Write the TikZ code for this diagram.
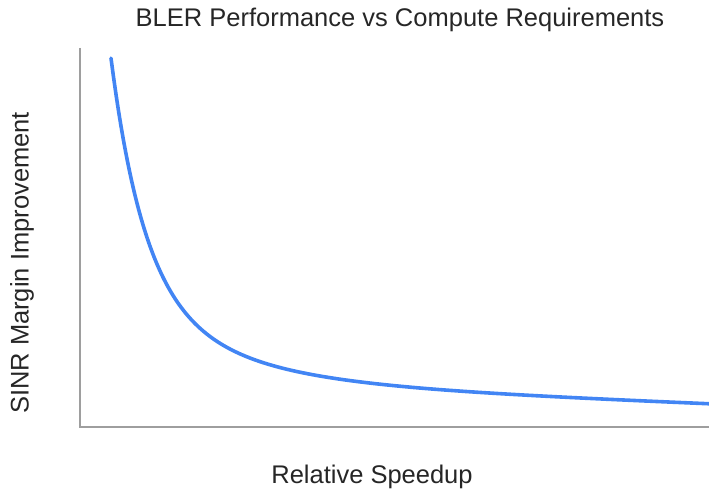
\documentclass[tikz,border=0pt]{standalone}
\usepackage{fontspec}
\setmainfont{Liberation Sans}
\usepackage{tikz}
\usetikzlibrary{positioning}

\definecolor{curveblue}{HTML}{4285F4}
\definecolor{axisgray}{HTML}{9E9E9E}

\tikzset{
	axisline/.style={draw=axisgray, line width=1.6pt},
	bler/.style={draw=curveblue, line width=3.6pt, line cap=round, line join=round},
	labeltext/.style={font=\fontsize{25.5}{28}\selectfont, text=black!85, inner sep=0pt}
}

\begin{document}
\begin{tikzpicture}[x=1pt, y=-1pt]
		\useasboundingbox (0,0) rectangle (709,492);

		% axes
		\coordinate (origin) at (80,427);
		\coordinate (ytop) at (80,48);
		\coordinate (xend) at (709,427);
		\draw[axisline] (ytop) -- (origin) -- (xend);

		% curve
		\draw[bler] plot[domain=111:709, samples=240, smooth, variable=\x]
			(\x, {404-0.04*(709-\x)-225*exp(-0.03*(\x-111))-96.9*exp(-0.01*(\x-111))});

		% labels
		\node[labeltext] (title) at (400,20) {BLER Performance vs Compute Requirements};
		\node[labeltext] (xlabel) at (372,477) {Relative Speedup};
		\node[labeltext, rotate=90] (ylabel) at (22,263) {SINR Margin Improvement};
	\end{tikzpicture}
\end{document}
